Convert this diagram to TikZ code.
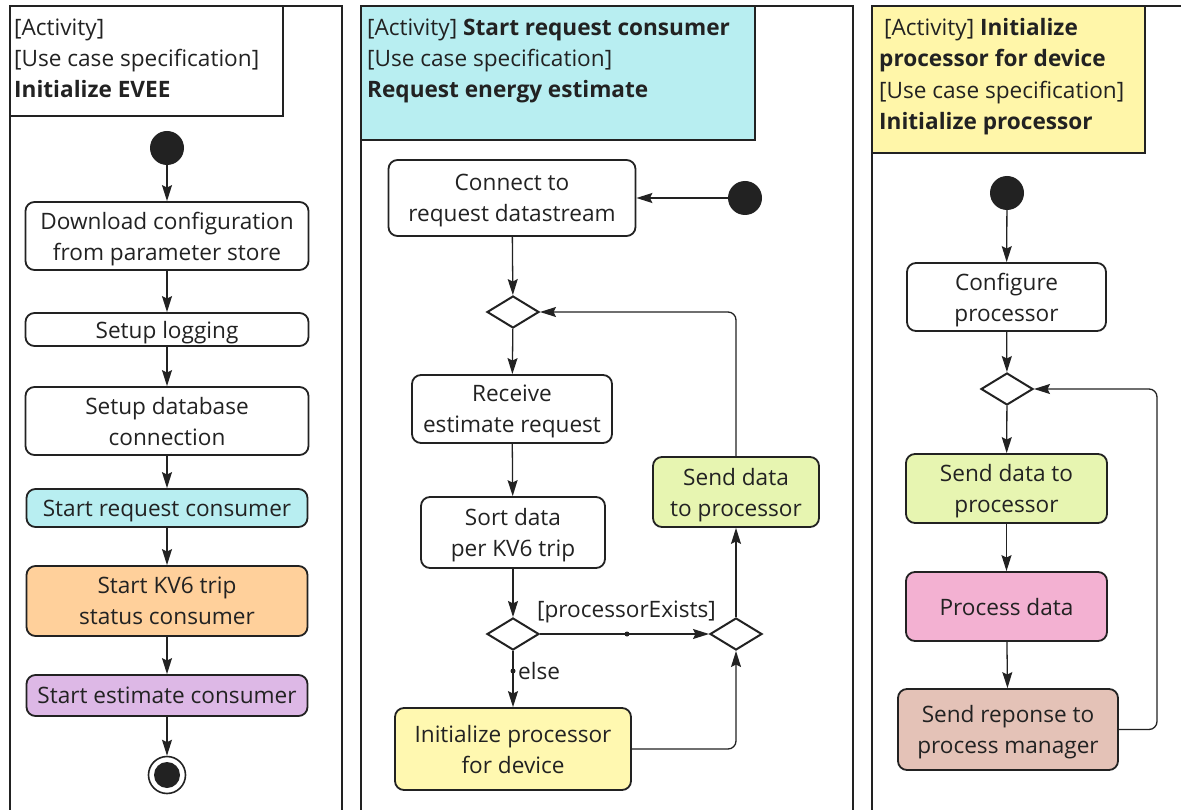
\documentclass[tikz,border=0pt]{standalone}
\usepackage{fontspec}
\setmainfont{Open Sans}
\usetikzlibrary{arrows.meta,shapes.geometric}
\definecolor{ink}{HTML}{222222}
\definecolor{cyanfill}{HTML}{B8EEF1}
\definecolor{orangefill}{HTML}{FFD09B}
\definecolor{lilacfill}{HTML}{DDB8E6}
\definecolor{yellowfill}{HTML}{FFF8B0}
\definecolor{titleyellow}{HTML}{FFF6A9}
\definecolor{greenfill}{HTML}{E7F5B1}
\definecolor{pinkfill}{HTML}{F3B1D2}
\definecolor{brownfill}{HTML}{E4C2B7}
\newcommand{\txtsize}{\fontsize{22.6}{31}\selectfont}
\begin{document}
\begin{tikzpicture}[x=1pt,y=-1pt,
  act/.style={draw=ink, line width=1.8pt, rounded corners=9pt, align=center,
    inner sep=0pt, text depth=0pt, font=\txtsize, text=ink, fill=white},
  dia/.style={diamond, draw=ink, line width=2pt, fill=white,
    minimum width=52, minimum height=32, inner sep=0pt},
  startdot/.style={circle, fill=ink, minimum size=34, inner sep=0pt},
  ttl/.style={anchor=base west, inner sep=0pt, font=\txtsize, text=ink},
  lbl/.style={inner sep=0pt, font=\txtsize, text=ink},
  frame/.style={draw=ink, line width=2.4pt},
  flow/.style={draw=ink, line width=1.3pt, rounded corners=8pt,
    -{Stealth[length=16pt,width=10pt,inset=2.5pt]}},
  pip/.style={circle, fill=ink, minimum size=5, inner sep=0pt}
]
\useasboundingbox (0,0) rectangle (1181,810);
\clip (0,0) rectangle (1181,810);
\fill[white] (0,0) rectangle (1181,810);

% ---------- frames and title boxes ----------
\draw[frame] (10,830) -- (10,6) -- (342,6) -- (342,830);
\draw[frame] (10,6) rectangle (283,116);
\draw[frame] (361,830) -- (361,6) -- (853,6) -- (853,830);
\draw[frame, fill=cyanfill] (361,6) rectangle (755,140);
\draw[frame] (872,830) -- (872,6) -- (1200,6);
\draw[frame, fill=titleyellow] (872,6) rectangle (1145,153);

% titles
\node[ttl] (t1a) at (14,36) {[Activity]};
\node[ttl] (t1b) at (14,67) {[Use case specification]};
\node[ttl] (t1c) at (14,98) {\bfseries Initialize EVEE};

\node[ttl] (t2a) at (367,36) {[Activity] \textbf{Start request consumer}};
\node[ttl] (t2b) at (367,67) {[Use case specification]};
\node[ttl] (t2c) at (367,98) {\bfseries Request energy estimate};

\node[ttl] (t3a) at (884,36) {[Activity] \textbf{Initialize}};
\node[ttl] (t3b) at (879,67) {\bfseries processor for device};
\node[ttl] (t3c) at (879,99) {[Use case specification]};
\node[ttl] (t3d) at (879,130) {\bfseries Initialize processor};

% ---------- Initialize EVEE ----------
\node[startdot] (s1) at (167,148) {};
\node[act, minimum width=283, minimum height=68] (dl) at (167,236)
  {Download configuration\\from parameter store};
\node[act, minimum width=283, minimum height=33] (log) at (167,329.5) {Setup logging};
\node[act, minimum width=283, minimum height=68] (db) at (167,421)
  {Setup database\\connection};
\node[act, fill=cyanfill, minimum width=281, minimum height=38] (src) at (167,508)
  {Start request consumer};
\node[act, fill=orangefill, minimum width=281, minimum height=70] (kv6) at (167,601)
  {Start KV6 trip\\status consumer};
\node[act, fill=lilacfill, minimum width=281, minimum height=41] (est) at (167,695.5)
  {Start estimate consumer};
\node[circle, draw=ink, line width=1.6pt, fill=white, minimum size=37, inner sep=0pt] (e1) at (167,775) {};
\node[circle, fill=ink, minimum size=26, inner sep=0pt] (e1in) at (167,775) {};

\draw[flow] (s1) -- (dl);
\draw[flow] (dl) -- (log);
\draw[flow] (log) -- (db);
\draw[flow] (db) -- (src);
\draw[flow] (src) -- (kv6);
\draw[flow] (kv6) -- (est);
\draw[flow] (est) -- (e1);

% ---------- Start request consumer ----------
\node[act, minimum width=247, minimum height=76] (conn) at (512,198)
  {Connect to\\request datastream};
\node[startdot] (s2) at (745,198) {};
\node[dia] (d1) at (513,312) {};
\node[act, minimum width=200, minimum height=68] (recv) at (512,409)
  {Receive\\estimate request};
\node[act, minimum width=184, minimum height=71] (sort) at (513,532.5)
  {Sort data\\per KV6 trip};
\node[dia] (d2) at (513,634) {};
\node[dia] (d3) at (736,634) {};
\node[act, fill=yellowfill, minimum width=236, minimum height=82] (init) at (513,749)
  {Initialize processor\\for device};
\node[act, fill=greenfill, minimum width=166, minimum height=70] (send) at (736,492)
  {Send data\\to processor};
\node[pip] (p1) at (627,634) {};
\node[pip] (p2) at (513,671) {};
\node[lbl] (lexists) at (626.5,612) {[processorExists]};
\node[lbl, anchor=west] (lelse) at (518,671) {else};

\draw[flow] (s2) -- (conn);
\draw[flow] (conn) -- (d1);
\draw[flow] (d1) -- (recv);
\draw[flow] (recv) -- (sort);
\draw[flow] (sort) -- (d2);
\draw[flow] (d2) -- (d3);
\draw[flow] (d2) -- (init);
\draw[flow] (init.east) -| (d3.south);
\draw[flow] (d3) -- (send);
\draw[flow] (send.north) |- (d1.east);

% ---------- Initialize processor for device ----------
\node[startdot] (s3) at (1007,193) {};
\node[act, minimum width=199, minimum height=68] (cfg) at (1006.5,297)
  {Configure\\processor};
\node[dia] (d4) at (1007,389) {};
\node[act, fill=greenfill, minimum width=201, minimum height=69] (snd) at (1006.5,488.5)
  {Send data to\\processor};
\node[act, fill=pinkfill, minimum width=201, minimum height=69] (proc) at (1006.5,606.5)
  {Process data};
\node[act, fill=brownfill, minimum width=220, minimum height=81] (resp) at (1008,729.5)
  {Send reponse to\\process manager};
\coordinate (loopcorner) at (1157,729.5);

\draw[flow] (s3) -- (cfg);
\draw[flow] (cfg) -- (d4);
\draw[flow] (d4) -- (snd);
\draw[flow] (snd) -- (proc);
\draw[flow] (proc) -- (resp);
\draw[flow] (resp.east) -- (loopcorner) |- (d4.east);
\end{tikzpicture}
\end{document}
